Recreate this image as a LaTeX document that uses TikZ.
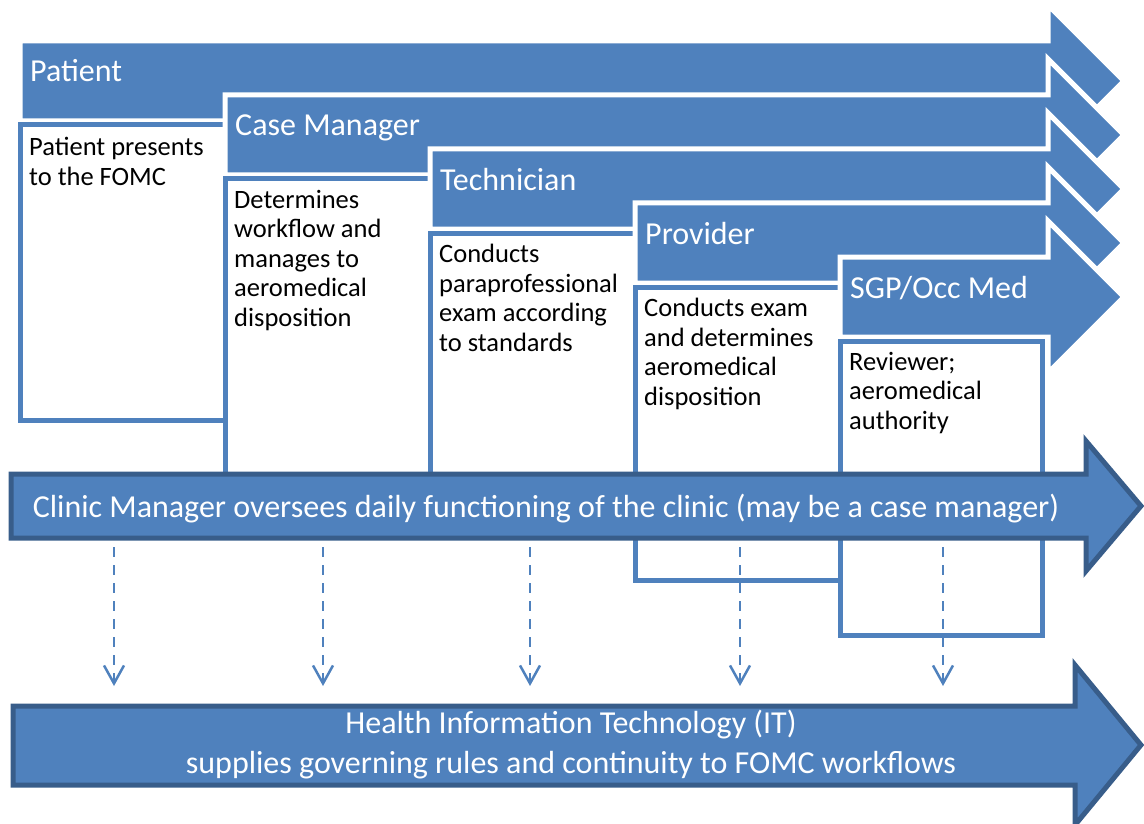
\documentclass[tikz,border=0pt]{standalone}
\usepackage{fontspec}
\setmainfont{Carlito}
\usetikzlibrary{arrows.meta,positioning}
\definecolor{steel}{RGB}{79,129,189}
\definecolor{navy}{RGB}{56,93,138}

\begin{document}
\begin{tikzpicture}[x=1pt, y=-1pt,
  lane/.style={fill=steel, draw=white, line width=5pt},
  duty/.style={fill=white, draw=steel, line width=5pt},
  role/.style={anchor=base west, inner sep=0pt, text=white, font=\fontsize{32}{36}\selectfont},
  task/.style={anchor=north west, inner sep=0pt, align=left, font=\fontsize{26.5}{29.5}\selectfont},
  flow/.style={fill=steel, draw=navy, line width=5pt},
  flowtext/.style={inner sep=0pt, text=white, align=center, font=\fontsize{32}{40}\selectfont},
  feed/.style={steel, line width=2.5pt, dash pattern=on 10pt off 8pt, -{Straight Barb[length=18pt,width=20pt]}}]
\useasboundingbox (0,0) rectangle (1144,824);

% Patient
\draw[lane] (20,41) -- (1048,41) -- (1048,5) -- (1124,81) -- (1048,157) -- (1048,121) -- (20,121) -- cycle;
\draw[duty] (20,125) rectangle (225,420);
\node[role] (patient) at (30,82) {Patient};
\node[task] (patientjob) at (29,137) {Patient presents\\to the FOMC};

% Case Manager
\draw[lane] (225,95) -- (1048,95) -- (1048,59) -- (1124,135) -- (1048,211) -- (1048,175) -- (225,175) -- cycle;
\draw[duty] (225,179) rectangle (430,520);
\node[role] (casemgr) at (235,136) {Case Manager};
\node[task] (casemgrjob) at (234,190) {Determines\\workflow and\\manages to\\aeromedical\\disposition};

% Technician
\draw[lane] (430,149) -- (1048,149) -- (1048,113) -- (1124,189) -- (1048,265) -- (1048,229) -- (430,229) -- cycle;
\draw[duty] (430,233) rectangle (635,520);
\node[role] (tech) at (440,190) {Technician};
\node[task] (techjob) at (439,244) {Conducts\\paraprofessional\\exam according\\to standards};

% Provider
\draw[lane] (635,203) -- (1048,203) -- (1048,167) -- (1124,243) -- (1048,319) -- (1048,283) -- (635,283) -- cycle;
\draw[duty] (635,287) rectangle (840,580);
\node[role] (provider) at (645,244) {Provider};
\node[task] (providerjob) at (644,298) {Conducts exam\\and determines\\aeromedical\\disposition};

% SGP / Occ Med
\draw[lane] (840,257) -- (1048,257) -- (1048,221) -- (1124,297) -- (1048,373) -- (1048,337) -- (840,337) -- cycle;
\draw[duty] (840,341) rectangle (1042,635);
\node[role] (sgp) at (850,298) {SGP/Occ Med};
\node[task] (sgpjob) at (849,352) {Reviewer;\\aeromedical\\authority};

% Clinic manager
\draw[flow] (11,474) -- (1086,474) -- (1086,441) -- (1141,506) -- (1086,571) -- (1086,538) -- (11,538) -- cycle;
\node[flowtext, anchor=base] (clinic) at (546,517) {Clinic Manager oversees daily functioning of the clinic (may be a case manager)};

% Health IT
\draw[flow] (13,706) -- (1075,706) -- (1075,665) -- (1141,745) -- (1075,825) -- (1075,785) -- (13,785) -- cycle;
\node[flowtext] (healthit) at (571,745) {Health Information Technology (IT)\\supplies governing rules and continuity to FOMC workflows};

% links down to IT
\coordinate (cm1) at (114,547); \coordinate (it1) at (114,686);
\coordinate (cm2) at (323,547); \coordinate (it2) at (323,686);
\coordinate (cm3) at (530,547); \coordinate (it3) at (530,686);
\coordinate (cm4) at (740,547); \coordinate (it4) at (740,686);
\coordinate (cm5) at (943,547); \coordinate (it5) at (943,686);
\draw[feed] (cm1) -- (it1);
\draw[feed] (cm2) -- (it2);
\draw[feed] (cm3) -- (it3);
\draw[feed] (cm4) -- (it4);
\draw[feed] (cm5) -- (it5);
\end{tikzpicture}
\end{document}
